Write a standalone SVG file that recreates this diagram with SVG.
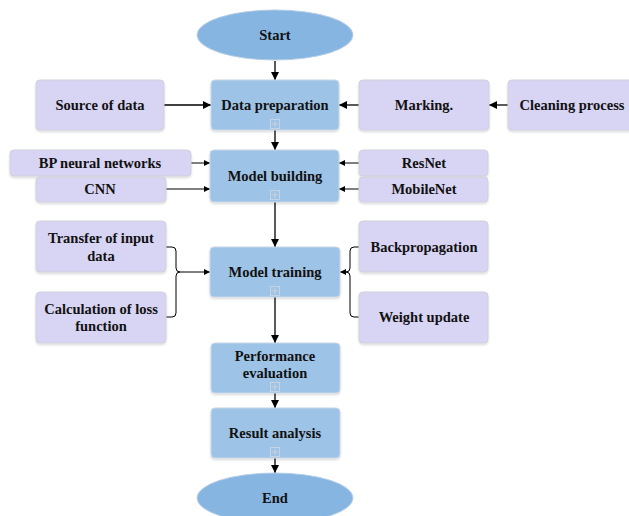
<svg xmlns="http://www.w3.org/2000/svg" width="629" height="516" viewBox="0 0 629 516">
<style>
.main{fill:#9dc3e6;stroke:#c9d7e6;stroke-width:1}
.term{fill:#87b5e1;stroke:#b5cde6;stroke-width:1}
.side{fill:#d8d4f3;stroke:#d0d0dc;stroke-width:1}
text{font-family:'Liberation Serif','Times New Roman',Times,serif;font-weight:700;font-size:14.5px;fill:#111;text-anchor:middle}
.c{stroke:#000;stroke-width:1.3;fill:none}
.t{stroke:#000;stroke-width:1;fill:none}
.icon rect{fill:none;stroke:#c6d3e0;stroke-width:1}
.icon path{stroke:#c6d3e0;stroke-width:1}
</style>
<defs>
<marker id="a" viewBox="0 0 10 10" refX="10" refY="5" markerWidth="6" markerHeight="6" orient="auto" markerUnits="userSpaceOnUse"><path d="M0,0L10,5L0,10z" fill="#000"/></marker>
<marker id="ab" viewBox="0 0 10 10" refX="10" refY="5" markerWidth="9" markerHeight="8" orient="auto" markerUnits="userSpaceOnUse"><path d="M0,0L10,5L0,10z" fill="#000"/></marker>
<filter id="sh" x="-10%" y="-10%" width="120%" height="130%"><feDropShadow dx="0" dy="1.5" stdDeviation="1" flood-color="#000" flood-opacity="0.15"/></filter>
</defs>

<g id="connectors">
<path class="c" d="M275,61V80" marker-end="url(#ab)"/>
<path class="c" d="M164,105H211" marker-end="url(#ab)"/>
<path class="c" d="M359,105H339" marker-end="url(#ab)"/>
<path class="c" d="M508,105H489" marker-end="url(#ab)"/>
<path class="c" d="M275,130V150" marker-end="url(#ab)"/>
<path class="t" d="M191,163H210" marker-end="url(#a)"/>
<path class="t" d="M166,189H210" marker-end="url(#a)"/>
<path class="t" d="M359,163H339" marker-end="url(#a)"/>
<path class="t" d="M359,189H339" marker-end="url(#a)"/>
<path class="c" d="M275,202V247" marker-end="url(#ab)"/>
<path class="t" d="M166,247H172Q176,247 176,251V268Q176,272 180,272Q176,272 176,276V313Q176,317 172,317H166"/>
<path class="t" d="M180,272H210" marker-end="url(#a)"/>
<path class="t" d="M359,247H354Q350,247 350,251V268Q350,272 346,272Q350,272 350,276V313Q350,317 354,317H359"/>
<path class="t" d="M346,272H340" marker-end="url(#a)"/>
<path class="c" d="M275,297V343" marker-end="url(#ab)"/>
<path class="c" d="M275,393V408" marker-end="url(#ab)"/>
<path class="c" d="M275,458V473" marker-end="url(#ab)"/>
</g>

<g id="start"><ellipse class="term" cx="275" cy="35" rx="78" ry="25"/><text x="275" y="40">Start</text></g>

<g id="data-preparation"><rect class="main" x="211" y="80" width="128" height="50" rx="4" filter="url(#sh)"/><text x="275" y="110">Data preparation</text><g class="icon"><rect x="270.5" y="119.5" width="9" height="9"/><path d="M275,121V127M272,124H278"/></g></g>
<g id="source-of-data"><rect class="side" x="36" y="80" width="128" height="50" rx="4" filter="url(#sh)"/><text x="100" y="110">Source of data</text></g>
<g id="marking"><rect class="side" x="359" y="80" width="130" height="50" rx="4" filter="url(#sh)"/><text x="424" y="110">Marking.</text></g>
<g id="cleaning-process"><rect class="side" x="508" y="80" width="128" height="50" rx="4" filter="url(#sh)"/><text x="572" y="110">Cleaning process</text></g>

<g id="model-building"><rect class="main" x="210" y="150" width="129" height="52" rx="4" filter="url(#sh)"/><text x="275" y="181">Model building</text><g class="icon"><rect x="270.5" y="190.5" width="9" height="9"/><path d="M275,192V198M272,195H278"/></g></g>
<g id="bp-neural-networks"><rect class="side" x="10" y="150" width="181" height="26" rx="4" filter="url(#sh)"/><text x="100" y="168">BP neural networks</text></g>
<g id="cnn"><rect class="side" x="36" y="177" width="130" height="25" rx="4" filter="url(#sh)"/><text x="100" y="194">CNN</text></g>
<g id="resnet"><rect class="side" x="359" y="150" width="129" height="26" rx="4" filter="url(#sh)"/><text x="424" y="168">ResNet</text></g>
<g id="mobilenet"><rect class="side" x="359" y="177" width="129" height="25" rx="4" filter="url(#sh)"/><text x="424" y="194">MobileNet</text></g>

<g id="model-training"><rect class="main" x="210" y="247" width="130" height="50" rx="4" filter="url(#sh)"/><text x="275" y="277">Model training</text><g class="icon"><rect x="270.5" y="286.5" width="9" height="9"/><path d="M275,288V294M272,291H278"/></g></g>
<g id="transfer-of-input-data"><rect class="side" x="36" y="221" width="130" height="51" rx="4" filter="url(#sh)"/><text x="101" y="243">Transfer of input</text><text x="101" y="261">data</text></g>
<g id="calculation-of-loss-function"><rect class="side" x="36" y="292" width="130" height="51" rx="4" filter="url(#sh)"/><text x="101" y="314">Calculation of loss</text><text x="101" y="331">function</text></g>
<g id="backpropagation"><rect class="side" x="359" y="221" width="129" height="51" rx="4" filter="url(#sh)"/><text x="424" y="252">Backpropagation</text></g>
<g id="weight-update"><rect class="side" x="359" y="292" width="129" height="51" rx="4" filter="url(#sh)"/><text x="424" y="322">Weight update</text></g>

<g id="performance-evaluation"><rect class="main" x="211" y="343" width="129" height="50" rx="4" filter="url(#sh)"/><text x="275" y="361">Performance</text><text x="275" y="378">evaluation</text><g class="icon"><rect x="270.5" y="382.5" width="9" height="9"/><path d="M275,384V390M272,387H278"/></g></g>
<g id="result-analysis"><rect class="main" x="211" y="408" width="129" height="50" rx="4" filter="url(#sh)"/><text x="275" y="438">Result analysis</text><g class="icon"><rect x="270.5" y="447.5" width="9" height="9"/><path d="M275,449V455M272,452H278"/></g></g>
<g id="end"><ellipse class="term" cx="275" cy="498" rx="78" ry="25"/><text x="275" y="503">End</text></g>
</svg>
